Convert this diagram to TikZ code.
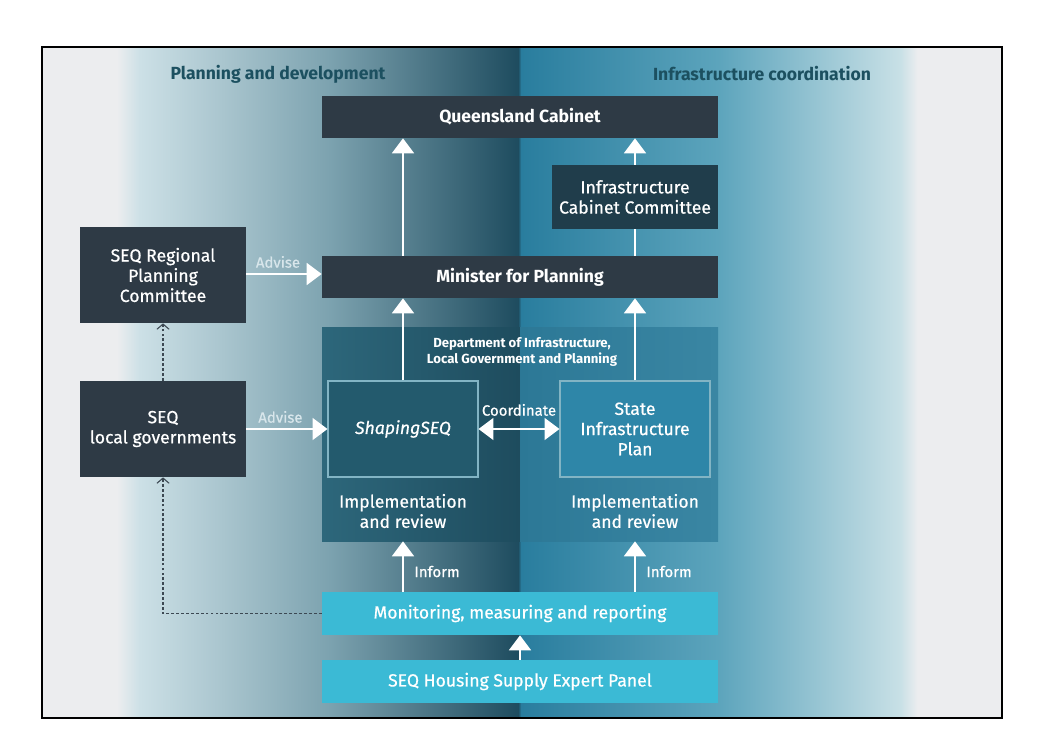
\documentclass[tikz,border=0pt]{standalone}
\usepackage{fontspec}
\setmainfont{Fira Sans}
\newfontfamily\mediumfont[FakeBold=0.6]{Fira Sans}
\usetikzlibrary{arrows.meta,positioning,calc}
\definecolor{PageGray}{RGB}{236,237,239}
\definecolor{PlanLight}{RGB}{204,224,230}
\definecolor{PlanMid}{RGB}{124,162,175}
\definecolor{PlanDark}{RGB}{30,76,95}
\definecolor{InfraDark}{RGB}{41,125,158}
\definecolor{InfraMid}{RGB}{92,164,188}
\definecolor{InfraLight}{RGB}{200,224,230}
\definecolor{SlateBox}{RGB}{46,58,69}
\definecolor{CommBox}{RGB}{32,61,75}
\definecolor{DeptL}{RGB}{45,103,123}
\definecolor{DeptM}{RGB}{30,76,94}
\definecolor{DeptR}{RGB}{44,120,150}
\definecolor{DeptRR}{RGB}{58,134,163}
\definecolor{ShapeFill}{RGB}{35,90,109}
\definecolor{SipFill}{RGB}{46,134,168}
\definecolor{PlanEdge}{RGB}{130,180,196}
\definecolor{CyanBox}{RGB}{59,186,213}
\definecolor{HeadText}{RGB}{28,80,96}
\definecolor{NoteText}{RGB}{216,230,235}
\definecolor{DashGray}{RGB}{60,72,82}
\pgfdeclarehorizontalshading{bandshade}{100bp}{color(0bp)=(PageGray); color(28.9bp)=(PageGray);
  color(30.1bp)=(PlanLight); color(40bp)=(PlanMid); color(49.8bp)=(PlanDark);
  color(49.95bp)=(InfraDark); color(60.2bp)=(InfraMid); color(69.7bp)=(InfraLight);
  color(70.6bp)=(PageGray); color(100bp)=(PageGray)}
\pgfdeclarehorizontalshading{deptshade}{100bp}{color(0bp)=(DeptL); color(25bp)=(DeptL);
  color(49.9bp)=(DeptM); color(50bp)=(DeptR); color(75bp)=(DeptRR); color(100bp)=(DeptRR)}
\begin{document}
\begin{tikzpicture}[x=0.2mm,y=-0.2mm,inner sep=0pt,
  wide/.style={fill=SlateBox,text=white,minimum width=7.92cm,minimum height=0.84cm,
               font=\bfseries\fontsize{10}{12}\selectfont},
  side/.style={fill=SlateBox,text=white,align=center,minimum width=3.32cm,minimum height=1.92cm,
               font=\mediumfont\fontsize{10}{11.5}\selectfont},
  plan/.style={draw=PlanEdge,line width=0.6pt,text=white,align=center,minimum width=3cm,
               minimum height=1.92cm,font=\mediumfont\fontsize{10}{11.5}\selectfont},
  feed/.style={fill=CyanBox,text=white,minimum width=7.92cm,minimum height=0.86cm,
               font=\mediumfont\fontsize{10}{12}\selectfont},
  up/.style={-{Triangle[length=8.5pt,width=12.5pt]},white,line width=1pt},
  back/.style={-{Straight Barb[length=3pt,width=7pt]},DashGray,line width=0.6pt,
               dash pattern=on 1.6pt off 1.2pt},
  note/.style={font=\mediumfont\fontsize{8.5}{10}\selectfont,text=NoteText},
  head/.style={font=\bfseries\fontsize{10}{12}\selectfont,text=HeadText},
]
\useasboundingbox[fill=white] (0,0) rectangle (1038,753);
\shade[shading=bandshade] (42,47) rectangle (1002,718);
\draw[line width=0.9pt] (42,47) rectangle (1002,718);
\node[head] (plandev) at (278,74) {Planning and development};
\node[head] (infraco) at (762,74) {Infrastructure coordination};
% decision makers
\node[wide] (cabinet) at (520,117) {Queensland Cabinet};
\node[side,fill=CommBox,minimum height=1.28cm] (icc) at (635,197) {Infrastructure\\Cabinet Committee};
\node[wide] (minister) at (520,277) {Minister for Planning};
\node[side] (rpc) at (163,275) {SEQ Regional\\Planning\\Committee};
\node[side] (lgov) at (163,429) {SEQ\\local governments};
% department
\node[shading=deptshade,minimum width=7.92cm,minimum height=4.28cm] (dept) at (520,434) {};
\node[font=\bfseries\fontsize{7.5}{9}\selectfont,text=white,align=center] (deptlbl) at (522,352)
  {Department of Infrastructure,\\Local Government and Planning};
\node[plan,fill=ShapeFill] (shaping) at (403,429) {\itshape ShapingSEQ};
\node[plan,fill=SipFill] (sip) at (635,429) {State\\Infrastructure\\Plan};
\node[plan,draw=none,minimum height=0pt] (implA) at (403,511) {Implementation\\and review};
\node[plan,draw=none,minimum height=0pt] (implB) at (635,511) {Implementation\\and review};
% monitoring
\node[feed] (monitor) at (520,613.5) {Monitoring, measuring and reporting};
\node[feed] (panel) at (520,681.5) {SEQ Housing Supply Expert Panel};
% connectors
\draw[up] (shaping.north) -- (shaping.north |- minister.south);
\draw[up] (shaping.north |- minister.north) -- (shaping.north |- cabinet.south);
\draw[up] (sip.north) -- (sip.north |- minister.south);
\draw[white,line width=1pt] (icc.south) -- (icc.south |- minister.north);
\draw[up] (icc.north) -- (icc.north |- cabinet.south);
\draw[up] (rpc.east |- 0,274) -- (minister.west |- 0,274) node[note,pos=0.42,above=3pt] {Advise};
\draw[up] (lgov.east) -- (shaping.west) node[note,pos=0.42,above=3pt] {Advise};
\draw[up,{Triangle[length=8.5pt,width=12.5pt]}-{Triangle[length=8.5pt,width=12.5pt]}]
  (shaping.east) -- (sip.east -| sip.west) node[note,text=white,midway,above=7pt] {Coordinate};
\foreach \b in {shaping,sip}
  \draw[up] (monitor.north -| \b) -- (dept.south -| \b)
    node[note,text=white,pos=0.4,right=6pt] {Inform};
\draw[up] (panel.north) -- (monitor.south);
\draw[back] (monitor.west) -- (monitor.west -| lgov) -- (lgov.south);
\draw[back] (lgov.north) -- (rpc.south);
\end{tikzpicture}
\end{document}
